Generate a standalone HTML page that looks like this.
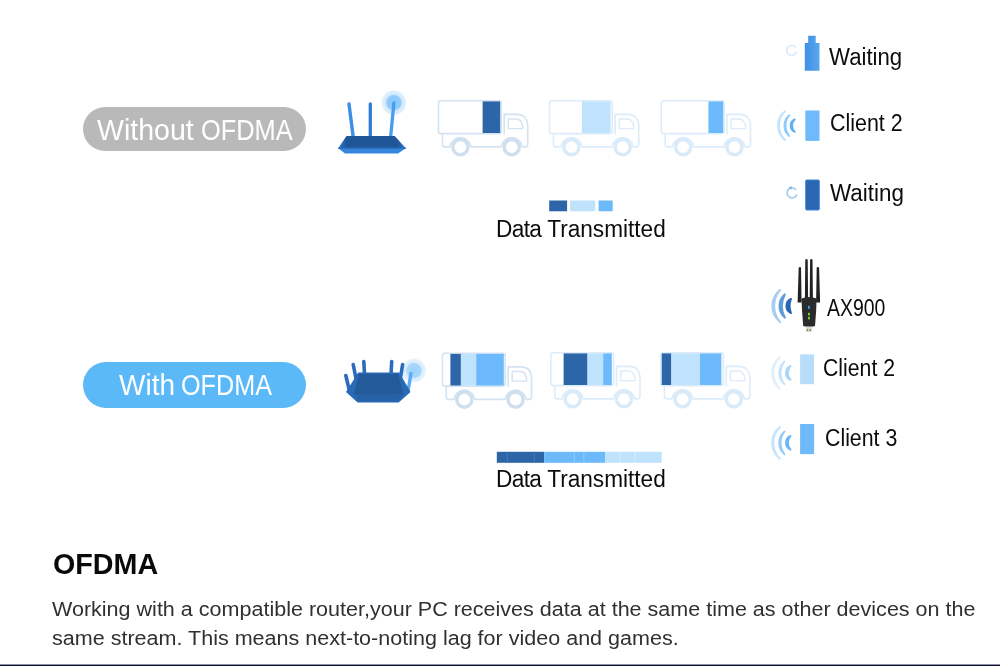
<!DOCTYPE html>
<html lang="en">
<head>
<meta charset="utf-8">
<title>OFDMA</title>
<style>
html,body{margin:0;padding:0;background:#fff;}
body{width:1000px;height:666px;position:relative;overflow:hidden;font-family:"Liberation Sans",sans-serif;}
#art{position:absolute;left:0;top:0;width:1000px;height:666px;display:block;filter:blur(.45px);}
.t{position:absolute;white-space:nowrap;line-height:1;transform-origin:0 0;color:#0c0c0c;}
.pill{position:absolute;border-radius:23px;}
#pill1{left:83px;top:107.3px;width:223px;height:43.5px;background:#b9b9b9;}
#pill2{left:83px;top:362.4px;width:223px;height:45.2px;background:#5bb9f8;}
.pt{color:#fff;font-size:29px;}
.lab{font-size:23px;}
#h{left:52.5px;top:549.3px;font-size:29.7px;font-weight:bold;color:#0a0a0a;transform:scaleX(.966);}
.p{font-size:20px;color:#303030;}
#p1{left:52px;top:599px;transform:scaleX(1.0765);}
#p2{left:52px;top:628.1px;transform:scaleX(1.0765);}
#rule{position:absolute;left:0;top:664px;width:1000px;height:2px;background:linear-gradient(#8d8fa5 0,#8d8fa5 50%,#0e1133 50%,#0e1133 100%);}
</style>
</head>
<body>
<svg id="art" width="1000" height="666" viewBox="0 0 1000 666">
<defs>
<radialGradient id="glow"><stop offset="0" stop-color="#86c8fb"/><stop offset=".54" stop-color="#92cdfb"/><stop offset=".64" stop-color="#d2e9fc"/><stop offset=".9" stop-color="#e0f0fd"/><stop offset="1" stop-color="#eef7fe" stop-opacity="0"/></radialGradient>
<radialGradient id="glow2"><stop offset="0" stop-color="#9bd2fb"/><stop offset=".54" stop-color="#a6d7fb"/><stop offset=".66" stop-color="#d9edfc"/><stop offset=".9" stop-color="#e4f2fd"/><stop offset="1" stop-color="#eef7fe" stop-opacity="0"/></radialGradient>
<linearGradient id="rb1" x1="0" x2="1" y1="0" y2="0"><stop offset="0" stop-color="#2f7fd6"/><stop offset=".12" stop-color="#1f5697"/><stop offset=".88" stop-color="#1f5697"/><stop offset="1" stop-color="#2f7fd6"/></linearGradient>
<linearGradient id="dev1" x1="0" x2="1" y1="0" y2="0"><stop offset="0" stop-color="#3f8fe4"/><stop offset="1" stop-color="#5aa6ee"/></linearGradient>
</defs>
<g id="router1">
<circle cx="393.9" cy="102.6" r="13" fill="url(#glow)"/>
<path d="M349 104L353.2 137" stroke="#3d8fe6" stroke-width="3.4" stroke-linecap="round"/>
<path d="M370.3 104V137" stroke="#2f7bd3" stroke-width="3.3" stroke-linecap="round"/>
<path d="M393.9 103L390.6 137" stroke="#4a9cf0" stroke-width="3.3" stroke-linecap="round"/>
<path d="M346.5 136H394.7L405.8 148.3H338.2Z" fill="url(#rb1)"/>
<path d="M338.2 148.3H405.8L398 153.4H345Z" fill="#3586dc"/>
<path d="M338.2 147.6H405.8V149H338.2Z" fill="#2a6fc0"/>
</g>
<g id="router2">
<circle cx="414" cy="370.5" r="12.5" fill="url(#glow2)"/>
<path d="M411 373.5L408 391" stroke="#5aaaf5" stroke-width="3.4" stroke-linecap="round"/>
<path d="M345.8 375.5L349.5 391" stroke="#2a6cbd" stroke-width="3.6" stroke-linecap="round"/>
<path d="M353.2 364.5L356.5 381" stroke="#2a6cbd" stroke-width="3.6" stroke-linecap="round"/>
<path d="M363.8 361.5L364.5 374" stroke="#2a6cbd" stroke-width="3.6" stroke-linecap="round"/>
<path d="M391.7 361.5L391 374" stroke="#2a6cbd" stroke-width="3.6" stroke-linecap="round"/>
<path d="M402.6 364.5L400 381" stroke="#2a6cbd" stroke-width="3.6" stroke-linecap="round"/>
<path d="M358.2 372.6H399.3L410.5 392L398.7 402.6H357.6L346 392Z" fill="#2a69b6"/>
<path d="M359.5 374H398L403.5 394.5H353.5Z" fill="#235a99"/>
<path d="M353.5 394.5H403.5L397.5 401H359Z" fill="#2662a8"/>
</g>
<g transform="translate(0 0)">
<rect x="438.5" y="100.8" width="62.8" height="32.8" rx="2.5" fill="#fff" stroke="#d4e3f1" stroke-width="1.6"/>
<rect x="482.6" y="101.4" width="17.6" height="31.6" fill="#2d66a8"/>
<path d="M442.4 134.6V144.2Q442.4 146.9 445.1 146.9H449.8A10.7 10.7 0 0 1 471 146.9H501.1A10.7 10.7 0 0 1 522.3 146.9H525Q527.7 146.9 527.7 144.2V125Q527 114.6 517.5 114.4H504.2V134.6" fill="none" stroke="#d4e3f1" stroke-width="1.6" stroke-linejoin="round"/>
<path d="M508.3 119H517.5Q521.6 120 522.8 126.5V128.6H508.3Z" fill="none" stroke="#d4e3f1" stroke-width="1.4" stroke-linejoin="round"/>
<circle cx="460.4" cy="147.1" r="7.6" fill="#fff" stroke="#cfdfee" stroke-width="3.4"/>
<circle cx="460.4" cy="147.1" r="4.3" fill="#fff"/>
<circle cx="511.7" cy="147.1" r="7.6" fill="#fff" stroke="#cfdfee" stroke-width="3.4"/>
<circle cx="511.7" cy="147.1" r="4.3" fill="#fff"/>
</g>
<g transform="translate(111 0)">
<rect x="438.5" y="100.8" width="62.8" height="32.8" rx="2.5" fill="#fff" stroke="#dcecfa" stroke-width="1.6"/>
<rect x="470.9" y="101.4" width="28.7" height="31.6" fill="#bfe3fc"/>
<path d="M442.4 134.6V144.2Q442.4 146.9 445.1 146.9H449.8A10.7 10.7 0 0 1 471 146.9H501.1A10.7 10.7 0 0 1 522.3 146.9H525Q527.7 146.9 527.7 144.2V125Q527 114.6 517.5 114.4H504.2V134.6" fill="none" stroke="#dcecfa" stroke-width="1.6" stroke-linejoin="round"/>
<path d="M508.3 119H517.5Q521.6 120 522.8 126.5V128.6H508.3Z" fill="none" stroke="#dcecfa" stroke-width="1.4" stroke-linejoin="round"/>
<circle cx="460.4" cy="147.1" r="7.6" fill="#fff" stroke="#d9eaf9" stroke-width="3.4"/>
<circle cx="460.4" cy="147.1" r="4.3" fill="#fff"/>
<circle cx="511.7" cy="147.1" r="7.6" fill="#fff" stroke="#d9eaf9" stroke-width="3.4"/>
<circle cx="511.7" cy="147.1" r="4.3" fill="#fff"/>
</g>
<g transform="translate(222.8 0)">
<rect x="438.5" y="100.8" width="62.8" height="32.8" rx="2.5" fill="#fff" stroke="#dcecfa" stroke-width="1.6"/>
<rect x="485.6" y="101.4" width="14.8" height="31.6" fill="#6cb9fb"/>
<path d="M442.4 134.6V144.2Q442.4 146.9 445.1 146.9H449.8A10.7 10.7 0 0 1 471 146.9H501.1A10.7 10.7 0 0 1 522.3 146.9H525Q527.7 146.9 527.7 144.2V125Q527 114.6 517.5 114.4H504.2V134.6" fill="none" stroke="#dcecfa" stroke-width="1.6" stroke-linejoin="round"/>
<path d="M508.3 119H517.5Q521.6 120 522.8 126.5V128.6H508.3Z" fill="none" stroke="#dcecfa" stroke-width="1.4" stroke-linejoin="round"/>
<circle cx="460.4" cy="147.1" r="7.6" fill="#fff" stroke="#d9eaf9" stroke-width="3.4"/>
<circle cx="460.4" cy="147.1" r="4.3" fill="#fff"/>
<circle cx="511.7" cy="147.1" r="7.6" fill="#fff" stroke="#d9eaf9" stroke-width="3.4"/>
<circle cx="511.7" cy="147.1" r="4.3" fill="#fff"/>
</g>
<g transform="translate(3.9 252.5)">
<rect x="438.5" y="100.8" width="62.8" height="32.8" rx="2.5" fill="#fff" stroke="#d4e3f1" stroke-width="1.6"/>
<rect x="446.5" y="101.4" width="10.5" height="31.6" fill="#2d66a8"/>
<rect x="457" y="101.4" width="15.3" height="31.6" fill="#bfe3fc"/>
<rect x="472.3" y="101.4" width="27.6" height="31.6" fill="#6cb9fb"/>
<path d="M442.4 134.6V144.2Q442.4 146.9 445.1 146.9H449.8A10.7 10.7 0 0 1 471 146.9H501.1A10.7 10.7 0 0 1 522.3 146.9H525Q527.7 146.9 527.7 144.2V125Q527 114.6 517.5 114.4H504.2V134.6" fill="none" stroke="#d4e3f1" stroke-width="1.6" stroke-linejoin="round"/>
<path d="M508.3 119H517.5Q521.6 120 522.8 126.5V128.6H508.3Z" fill="none" stroke="#d4e3f1" stroke-width="1.4" stroke-linejoin="round"/>
<circle cx="460.4" cy="147.1" r="7.6" fill="#fff" stroke="#cfdfee" stroke-width="3.4"/>
<circle cx="460.4" cy="147.1" r="4.3" fill="#fff"/>
<circle cx="511.7" cy="147.1" r="7.6" fill="#fff" stroke="#cfdfee" stroke-width="3.4"/>
<circle cx="511.7" cy="147.1" r="4.3" fill="#fff"/>
</g>
<g transform="translate(112.3 252)">
<rect x="438.5" y="100.8" width="62.8" height="32.8" rx="2.5" fill="#fff" stroke="#dcecfa" stroke-width="1.6"/>
<rect x="451.3" y="101.4" width="23.9" height="31.6" fill="#2d66a8"/>
<rect x="475.2" y="101.4" width="15.7" height="31.6" fill="#bfe3fc"/>
<rect x="490.9" y="101.4" width="8.6" height="31.6" fill="#6cb9fb"/>
<path d="M442.4 134.6V144.2Q442.4 146.9 445.1 146.9H449.8A10.7 10.7 0 0 1 471 146.9H501.1A10.7 10.7 0 0 1 522.3 146.9H525Q527.7 146.9 527.7 144.2V125Q527 114.6 517.5 114.4H504.2V134.6" fill="none" stroke="#dcecfa" stroke-width="1.6" stroke-linejoin="round"/>
<path d="M508.3 119H517.5Q521.6 120 522.8 126.5V128.6H508.3Z" fill="none" stroke="#dcecfa" stroke-width="1.4" stroke-linejoin="round"/>
<circle cx="460.4" cy="147.1" r="7.6" fill="#fff" stroke="#d9eaf9" stroke-width="3.4"/>
<circle cx="460.4" cy="147.1" r="4.3" fill="#fff"/>
<circle cx="511.7" cy="147.1" r="7.6" fill="#fff" stroke="#d9eaf9" stroke-width="3.4"/>
<circle cx="511.7" cy="147.1" r="4.3" fill="#fff"/>
</g>
<g transform="translate(222.1 252)">
<rect x="438.5" y="100.8" width="62.8" height="32.8" rx="2.5" fill="#fff" stroke="#dcecfa" stroke-width="1.6"/>
<rect x="439.6" y="101.4" width="9.7" height="31.6" fill="#2d66a8"/>
<rect x="449.3" y="101.4" width="28.6" height="31.6" fill="#bfe3fc"/>
<rect x="477.9" y="101.4" width="21.4" height="31.6" fill="#6cb9fb"/>
<path d="M442.4 134.6V144.2Q442.4 146.9 445.1 146.9H449.8A10.7 10.7 0 0 1 471 146.9H501.1A10.7 10.7 0 0 1 522.3 146.9H525Q527.7 146.9 527.7 144.2V125Q527 114.6 517.5 114.4H504.2V134.6" fill="none" stroke="#dcecfa" stroke-width="1.6" stroke-linejoin="round"/>
<path d="M508.3 119H517.5Q521.6 120 522.8 126.5V128.6H508.3Z" fill="none" stroke="#dcecfa" stroke-width="1.4" stroke-linejoin="round"/>
<circle cx="460.4" cy="147.1" r="7.6" fill="#fff" stroke="#d9eaf9" stroke-width="3.4"/>
<circle cx="460.4" cy="147.1" r="4.3" fill="#fff"/>
<circle cx="511.7" cy="147.1" r="7.6" fill="#fff" stroke="#d9eaf9" stroke-width="3.4"/>
<circle cx="511.7" cy="147.1" r="4.3" fill="#fff"/>
</g>
<rect x="549.2" y="200.5" width="17.9" height="10.8" fill="#2d66a8"/><rect x="570.1" y="200.5" width="25.1" height="10.8" fill="#bfe3fc"/><rect x="598.6" y="200.5" width="14.1" height="10.8" fill="#6cb9fb"/>
<rect x="496.8" y="451.8" width="47.5" height="11" fill="#2d66a8"/><rect x="544.3" y="451.8" width="60.7" height="11" fill="#6cb9fb"/><rect x="605" y="451.8" width="56.7" height="11" fill="#bfe3fc"/>
<rect x="506.79999999999995" y="451.8" width="1.2" height="11" fill="#3f78ba"/>
<rect x="533.8" y="451.8" width="1.2" height="11" fill="#3f78ba"/>
<rect x="573.6999999999999" y="451.8" width="1.2" height="11" fill="#8cc9fc"/>
<rect x="583.1999999999999" y="451.8" width="1.2" height="11" fill="#8cc9fc"/>
<rect x="619.6999999999999" y="451.8" width="1.2" height="11" fill="#d3ecfd"/>
<rect x="634.4" y="451.8" width="1.2" height="11" fill="#d3ecfd"/>
<path d="M808.2 35.8H815.7V43H819.5V70.7H804.8V43H808.2Z" fill="url(#dev1)"/>
<path d="M795.5 47A5 5 0 1 0 796.3 52.5" fill="none" stroke="#dcecfa" stroke-width="1.8" stroke-linecap="round"/>
<rect x="805.3" y="110.5" width="14.2" height="30.4" fill="#6fbafa"/>
<path d="M794.7 119.3A6.89 6.89 0 0 0 794.7 131.9A8.93 8.93 0 0 1 794.7 119.3Z" fill="#5fb0f7" stroke="#5fb0f7" stroke-width="1.9" stroke-linejoin="round"/>
<path d="M789.3 115.2A13.49 13.49 0 0 0 789.3 136A16.13 16.13 0 0 1 789.3 115.2Z" fill="#8ecafb" stroke="#8ecafb" stroke-width="1.9" stroke-linejoin="round"/>
<path d="M785.1 111.2A18.15 18.15 0 0 0 785.1 140A19.82 19.82 0 0 1 785.1 111.2Z" fill="#c3e2fc" stroke="#c3e2fc" stroke-width="1.9" stroke-linejoin="round"/>
<rect x="805.7" y="180" width="13.6" height="30" rx="1" fill="#2a67b0" stroke="#3b86da" stroke-width="1"/>
<path d="M795.8 189.5A5 5 0 1 0 796.6 195" fill="none" stroke="#a9cdea" stroke-width="1.8" stroke-linecap="round"/><path d="M788.6 187.2L791.8 186.2L791.5 189.8Z" fill="#7fb2e0"/>
<g id="ax900">
<path d="M798.7 267.5Q799.85 266.3 801 267.5L801.6 302.5H797.6Z" fill="#222"/>
<path d="M805.3 259.7Q806.5 258.5 807.7 259.7L808.1 298H804.9Z" fill="#222"/>
<path d="M810.1 259.7Q811.3 258.5 812.5 259.7L812.9 298H809.7Z" fill="#222"/>
<path d="M816.7 267.5Q817.9 266.3 819.1 267.5L820.1 302.5H816.1Z" fill="#222"/>
<path d="M801.5 298.5Q809 295.5 816.6 298.5L816.2 310L815 326Q809 328.2 803.2 326L802 310Z" fill="#2b2b2e"/>
<rect x="806" y="326.5" width="5.8" height="5.4" fill="#d9d9d9"/><rect x="806.8" y="329.2" width="1.4" height="1.6" fill="#8a6d2a"/><rect x="809.6" y="329.2" width="1.4" height="1.6" fill="#8a6d2a"/>
<rect x="808" y="305.8" width="1.8" height="3" fill="#3aa0ee"/>
<rect x="808" y="312.8" width="1.9" height="2.6" fill="#74d62c"/>
<rect x="808" y="316.8" width="1.9" height="2.6" fill="#74d62c"/>
</g>
<path d="M791 298.94A7.72 7.72 0 0 0 791 313.06A19.25 19.25 0 0 1 791 298.94Z" fill="#2865b2" stroke="#2865b2" stroke-width="1.9" stroke-linejoin="round"/>
<path d="M784.95 294.35A15.11 15.11 0 0 0 784.95 317.65A24.78 24.78 0 0 1 784.95 294.35Z" fill="#5f9cd9" stroke="#5f9cd9" stroke-width="1.9" stroke-linejoin="round"/>
<path d="M780.25 289.87A20.33 20.33 0 0 0 780.25 322.13A24.54 24.54 0 0 1 780.25 289.87Z" fill="#a9cdee" stroke="#a9cdee" stroke-width="1.9" stroke-linejoin="round"/>
<rect x="800.1" y="354.4" width="14" height="29.8" fill="#b7ddfb"/>
<path d="M790.5 365.97A7.58 7.58 0 0 0 790.5 379.83A10.33 10.33 0 0 1 790.5 365.97Z" fill="#a8d5fa" stroke="#a8d5fa" stroke-width="1.9" stroke-linejoin="round"/>
<path d="M784.56 361.46A14.84 14.84 0 0 0 784.56 384.34A18.4 18.4 0 0 1 784.56 361.46Z" fill="#c6e3fb" stroke="#c6e3fb" stroke-width="1.9" stroke-linejoin="round"/>
<path d="M779.94 357.06A19.97 19.97 0 0 0 779.94 388.74A22.24 22.24 0 0 1 779.94 357.06Z" fill="#e0effc" stroke="#e0effc" stroke-width="1.9" stroke-linejoin="round"/>
<rect x="800.1" y="424" width="14" height="30.1" fill="#6fbafa"/>
<path d="M790.5 435.87A7.58 7.58 0 0 0 790.5 449.73A10.33 10.33 0 0 1 790.5 435.87Z" fill="#6ab6f8" stroke="#6ab6f8" stroke-width="1.9" stroke-linejoin="round"/>
<path d="M784.56 431.36A14.84 14.84 0 0 0 784.56 454.24A18.4 18.4 0 0 1 784.56 431.36Z" fill="#97cdfa" stroke="#97cdfa" stroke-width="1.9" stroke-linejoin="round"/>
<path d="M779.94 426.96A19.97 19.97 0 0 0 779.94 458.64A22.24 22.24 0 0 1 779.94 426.96Z" fill="#c7e4fc" stroke="#c7e4fc" stroke-width="1.9" stroke-linejoin="round"/>
</svg>
<div class="pill" id="pill1"><span class="t pt" id="pt1a" style="left:14px;top:8.4px;transform:scaleX(.984);">Without</span> <span class="t pt" id="pt1b" style="left:117.6px;top:8.4px;transform:scaleX(.876);">OFDMA</span></div>
<div class="pill" id="pill2"><span class="t pt" id="pt2a" style="left:35.6px;top:8.4px;transform:scaleX(.965);">With</span> <span class="t pt" id="pt2b" style="left:97.6px;top:8.4px;transform:scaleX(.869);">OFDMA</span></div>
<div class="t lab" id="dt1" style="left:495.7px;top:217.6px;transform:scaleX(0.983);"><span style="letter-spacing:-.62px">Data</span> Transmitted</div>
<div class="t lab" id="dt2" style="left:495.7px;top:467.6px;transform:scaleX(0.983);"><span style="letter-spacing:-.62px">Data</span> Transmitted</div>
<div class="t lab" id="w1" style="left:828.5px;top:46.1px;transform:scaleX(0.965);">Waiting</div>
<div class="t lab" id="c2a" style="left:830.0px;top:111.6px;transform:scaleX(0.932);">Client 2</div>
<div class="t lab" id="w2" style="left:830.4px;top:181.6px;transform:scaleX(0.975);">Waiting</div>
<div class="t lab" id="ax" style="left:827.4px;top:296.6px;transform:scaleX(0.844);">AX900</div>
<div class="t lab" id="c2b" style="left:823.0px;top:357.1px;transform:scaleX(0.923);">Client 2</div>
<div class="t lab" id="c3" style="left:825.3px;top:427.1px;transform:scaleX(0.927);">Client 3</div>
<div class="t" id="h">OFDMA</div>
<div class="t p" id="p1">Working with a compatible router,your PC receives data at the same time as other devices on the</div>
<div class="t p" id="p2">same stream. This means next-to-noting lag for video and games.</div>
<div id="rule"></div>
</body>
</html>
